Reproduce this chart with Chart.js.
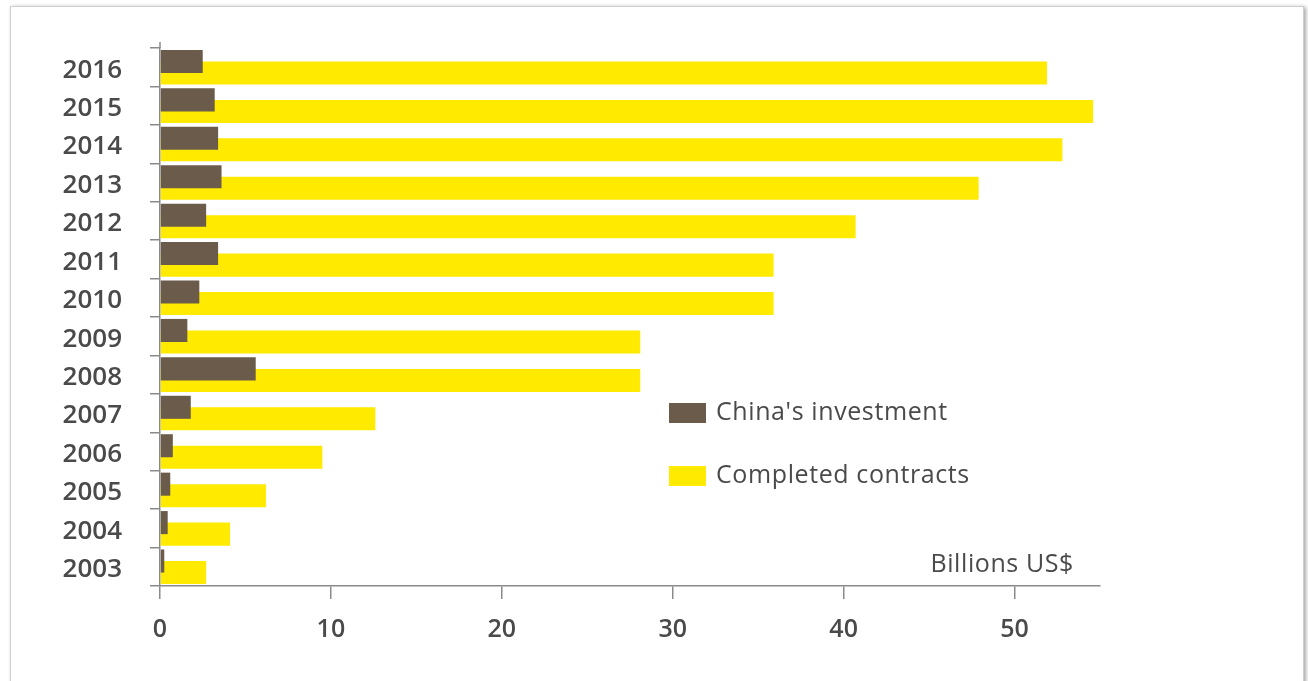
<!DOCTYPE html>
<html>
<head>
<meta charset="utf-8">
<script src="https://cdn.jsdelivr.net/npm/chart.js@4/dist/chart.umd.min.js"></script>
<style>
  html, body { margin: 0; padding: 0; background: #fff; }
  body { width: 1308px; height: 681px; position: relative; overflow: hidden; }
  #frame {
    position: absolute; left: 10px; top: 6px; width: 1292px; height: 700px;
    border: 1px solid #cfcfcf; box-shadow: 2px 1px 4px rgba(0,0,0,0.35);
  }
  #grafico { position: absolute; left: 0; top: 0; }
</style>
</head>
<body>
<div id="frame"></div>
<canvas id="grafico" width="1308" height="681"></canvas>
<script>
const years = ["2016", "2015", "2014", "2013", "2012", "2011", "2010", "2009", "2008", "2007", "2006", "2005", "2004", "2003"];
const investment = [2.5, 3.2, 3.4, 3.6, 2.7, 3.4, 2.3, 1.6, 5.6, 1.8, 0.75, 0.6, 0.45, 0.25];
const contracts = [51.9, 54.6, 52.8, 47.9, 40.7, 35.9, 35.9, 28.1, 28.1, 12.6, 9.5, 6.2, 4.1, 2.7];
const x_ticks = [0, 10, 20, 30, 40, 50];
const unidad = "Billions US$";

const gris = "#8a8a8a";
const texto = "#4a4a4a";

// leyenda dentro del area del grafico + etiqueta de unidades
const plugin_leyenda = {
  id: "leyendaInterna",
  afterDraw: (chart) => {
    const ctx = chart.ctx;
    ctx.save();
    ctx.font = "25px 'Open Sans'";
    ctx.letterSpacing = "0.6px";
    ctx.textBaseline = "middle";
    ctx.textAlign = "left";
    chart.data.datasets.forEach((ds, i) => {
      const y = 403 + i * 63;
      ctx.fillStyle = ds.backgroundColor;
      ctx.fillRect(669, y, 37, 20);
      ctx.fillStyle = texto;
      ctx.fillText(ds.label, 716, y + 10);
    });
    ctx.textAlign = "right";
    ctx.fillText(unidad, 1074, 565);
    ctx.restore();
  },
};

// extiende la linea del eje y un poco por encima del primer tick
const plugin_eje = {
  id: "ejeArriba",
  afterDraw: (chart) => {
    const a = chart.chartArea;
    const c = chart.ctx;
    c.save();
    c.strokeStyle = gris;
    c.lineWidth = 1.5;
    c.beginPath();
    c.moveTo(a.left, a.top);
    c.lineTo(a.left, a.top - 6);
    c.stroke();
    c.restore();
  },
};

const ctx = document.getElementById("grafico").getContext("2d");
const chart = new Chart(ctx, {
  type: "bar",
  data: {
    labels: years,
    datasets: [
      {
        label: "China's investment",
        data: investment,
        backgroundColor: "#6b5b4b",
        categoryPercentage: 0.6,
        barPercentage: 2.0,
      },
      {
        label: "Completed contracts",
        data: contracts,
        backgroundColor: "#ffea00",
        categoryPercentage: 0.6,
        barPercentage: 2.0,
      },
    ],
  },
  options: {
    indexAxis: "y",
    responsive: false,
    animation: false,
    layout: { padding: { left: 0, top: 48, right: 208, bottom: 0 } },
    plugins: {
      legend: { display: false },
      tooltip: { enabled: false },
    },
    scales: {
      y: {
        offset: true,
        afterFit: (scale) => { scale.width = 160; },
        border: { display: true, color: gris, width: 1.5 },
        grid: {
          offset: true,
          drawOnChartArea: false,
          drawTicks: true,
          tickLength: 10,
          color: gris,
          lineWidth: 1.5,
        },
        ticks: {
          padding: 28,
          labelOffset: 3,
          color: texto,
          font: { family: "'Open Sans'", size: 26, weight: 600 },
        },
      },
      x: {
        min: 0,
        max: 55,
        afterFit: (scale) => { scale.height = 681 - 586; },
        afterBuildTicks: (scale) => {
          scale.ticks = x_ticks.map((v) => ({ value: v }));
        },
        border: { display: true, color: gris, width: 1.5 },
        grid: {
          drawOnChartArea: false,
          drawTicks: true,
          tickLength: 13,
          color: gris,
          lineWidth: 1.5,
        },
        ticks: {
          padding: 16,
          color: texto,
          font: { family: "'Open Sans'", size: 25, weight: 600 },
        },
      },
    },
  },
  plugins: [plugin_leyenda, plugin_eje],
});
</script>
</body>
</html>
